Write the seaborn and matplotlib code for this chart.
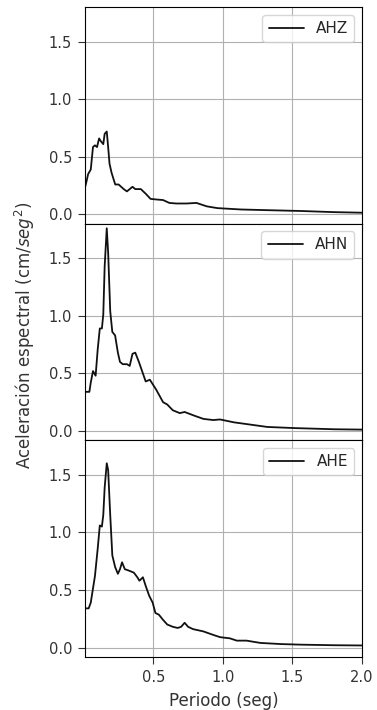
import numpy as np
import pandas as pd
import matplotlib
matplotlib.use("Agg")
import matplotlib.pyplot as plt
import seaborn as sns

# AHZ
ahz_t = [0.01, 0.02, 0.031, 0.05, 0.066, 0.08, 0.095, 0.11, 0.12, 0.14, 0.15, 0.165, 0.175, 0.185, 0.2,
         0.226, 0.25, 0.287, 0.31, 0.35, 0.37, 0.41, 0.445, 0.48, 0.52, 0.57, 0.615, 0.665, 0.74, 0.81,
         0.885, 0.96, 1.03, 1.13, 1.32, 1.56, 1.8, 2.0]
ahz_a = [0.24, 0.29, 0.35, 0.39, 0.585, 0.60, 0.585, 0.66, 0.64, 0.61, 0.70, 0.72, 0.585, 0.44, 0.36,
         0.26, 0.26, 0.22, 0.20, 0.24, 0.22, 0.22, 0.18, 0.135, 0.13, 0.125, 0.10, 0.095, 0.095, 0.10,
         0.07, 0.055, 0.05, 0.043, 0.037, 0.03, 0.02, 0.015]
# AHN
ahn_t = [0.01, 0.04, 0.05, 0.066, 0.085, 0.10, 0.115, 0.13, 0.14, 0.15, 0.165, 0.175, 0.19, 0.205,
         0.225, 0.245, 0.26, 0.28, 0.31, 0.33, 0.35, 0.37, 0.396, 0.445, 0.475, 0.52, 0.57, 0.60, 0.64,
         0.69, 0.725, 0.79, 0.86, 0.93, 0.98, 1.08, 1.2, 1.32, 1.52, 1.8, 2.0]
ahn_a = [0.34, 0.34, 0.42, 0.52, 0.48, 0.71, 0.89, 0.89, 1.01, 1.43, 1.76, 1.55, 1.04, 0.86,
         0.83, 0.68, 0.60, 0.58, 0.58, 0.565, 0.67, 0.68, 0.60, 0.43, 0.445, 0.36, 0.25, 0.23, 0.18,
         0.155, 0.165, 0.135, 0.105, 0.095, 0.10, 0.075, 0.055, 0.035, 0.025, 0.015, 0.012]
# AHE
ahe_t = [0.01, 0.035, 0.05, 0.08, 0.10, 0.115, 0.13, 0.14, 0.15, 0.165, 0.175, 0.19, 0.205, 0.225,
         0.245, 0.26, 0.275, 0.295, 0.32, 0.36, 0.385, 0.40, 0.425, 0.445, 0.47, 0.495, 0.515, 0.54,
         0.57, 0.60, 0.64, 0.675, 0.70, 0.725, 0.75, 0.785, 0.86, 0.93, 0.98, 1.05, 1.10, 1.17, 1.27,
         1.42, 1.56, 1.8, 2.0]
ahe_a = [0.34, 0.34, 0.39, 0.62, 0.86, 1.06, 1.05, 1.15, 1.39, 1.60, 1.54, 1.15, 0.80, 0.70,
         0.64, 0.68, 0.74, 0.68, 0.67, 0.65, 0.61, 0.58, 0.61, 0.535, 0.45, 0.39, 0.30, 0.285,
         0.24, 0.20, 0.18, 0.17, 0.18, 0.215, 0.18, 0.16, 0.14, 0.11, 0.09, 0.08, 0.06, 0.06, 0.04,
         0.03, 0.025, 0.02, 0.018]

series = [("AHZ", ahz_t, ahz_a), ("AHN", ahn_t, ahn_a), ("AHE", ahe_t, ahe_a)]

sns.set_style("ticks")
plt.rcParams['font.family'] = ['DejaVu Sans']

fig, axes = plt.subplots(3, 1, figsize=(3.77, 7.10), dpi=100, sharex=True, sharey=True)
fig.subplots_adjust(left=0.226, right=0.96, top=0.99, bottom=0.075, hspace=0)

for ax, (name, t, a) in zip(axes, series):
    df = pd.DataFrame({"Periodo": t, "Acel": a})
    sns.lineplot(data=df, x="Periodo", y="Acel", ax=ax, color="#111111", linewidth=1.3, label=name)
    ax.grid(True, color="#b0b0b0", linewidth=0.8)
    ax.set_xlim(0.01, 2.0)
    ax.set_ylim(-0.08, 1.8)
    ax.set_yticks([0.0, 0.5, 1.0, 1.5])
    ax.set_xticks([0.5, 1.0, 1.5, 2.0])
    ax.set_xlabel("")
    ax.set_ylabel("")
    ax.legend(loc="upper right", fontsize=11, handlelength=2.3)
    for s in ax.spines.values():
        s.set_color("black")
    ax.tick_params(colors="#333333", labelsize=10.5, length=5, pad=4.5)

axes[-1].set_xlabel("Periodo (seg)", fontsize=12, labelpad=5, color="#333333")
fig.text(0.066, 0.528, "Aceleración espectral (cm/$seg^2$)", rotation=90, va="center", ha="center",
         fontsize=12, color="#333333")

fig.savefig("out.png", dpi=100)
